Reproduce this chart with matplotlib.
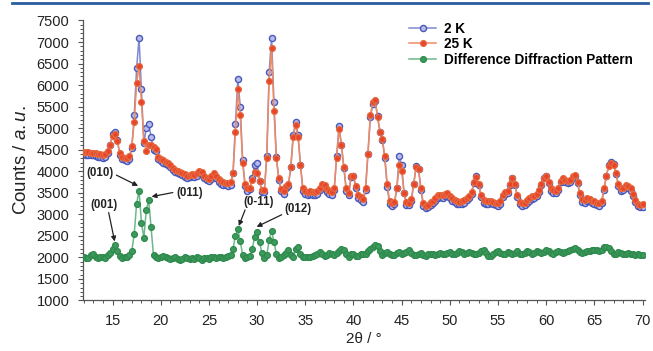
import numpy as np
import matplotlib
matplotlib.use("Agg")
import matplotlib.pyplot as plt
from matplotlib.ticker import MultipleLocator
from matplotlib.lines import Line2D

plt.rcParams['font.family'] = ['Liberation Sans', 'DejaVu Sans']
plt.rcParams['mathtext.fontset'] = 'custom'
plt.rcParams['mathtext.it'] = 'Liberation Sans:italic'
plt.rcParams['mathtext.rm'] = 'Liberation Sans'

# 2theta grid of the pattern (0.25 deg step, 12..70)
tth = np.arange(12.0, 70.001, 0.25)

# 25 K pattern, four points per degree
counts_25k = [
    4450, 4440, 4440, 4430,  4430, 4420, 4400, 4390,   # 12, 13
    4380, 4390, 4460, 4600,  4820, 4870, 4700, 4420,   # 14, 15
    4340, 4310, 4300, 4350,  4580, 5150, 6050, 6450,   # 16, 17
    5600, 4700, 4480, 4600,  4600, 4570, 4520, 4340,   # 18, 19
    4290, 4260, 4220, 4200,  4150, 4080, 4040, 4010,   # 20, 21
    3990, 3970, 3930, 3900,  3920, 3940, 3920, 3950,   # 22, 23
    4010, 3990, 3900, 3850,  3830, 3880, 3960, 3900,   # 24, 25
    3810, 3770, 3740, 3730,  3720, 3740, 3950, 4900,   # 26, 27
    5900, 5300, 4200, 3700,  3600, 3620, 3800, 3980,   # 28, 29
    3950, 3780, 3560, 3560,  4300, 6100, 6850, 5400,   # 30, 31
    4300, 3850, 3580, 3530,  3650, 3700, 4100, 4800,   # 32, 33
    5080, 4800, 4150, 3600,  3530, 3520, 3530, 3520,   # 34, 35
    3510, 3540, 3620, 3700,  3680, 3580, 3530, 3520,   # 36, 37
    3600, 4300, 4980, 4600,  4100, 3600, 3500, 3880,   # 38, 39
    3900, 3650, 3450, 3400,  3350, 3600, 4400, 5300,   # 40, 41
    5600, 5650, 5250, 4900,  4750, 4350, 3700, 3300,   # 42, 43
    3260, 3280, 3600, 4150,  4000, 3500, 3280, 3270,   # 44, 45
    3350, 3700, 4100, 4050,  3600, 3260, 3200, 3220,   # 46, 47
    3280, 3320, 3380, 3440,  3460, 3450, 3480, 3490,   # 48, 49
    3430, 3380, 3340, 3300,  3290, 3300, 3330, 3390,   # 50, 51
    3430, 3520, 3750, 3870,  3700, 3450, 3330, 3300,   # 52, 53
    3310, 3320, 3290, 3270,  3260, 3300, 3450, 3520,   # 54, 55
    3550, 3700, 3840, 3700,  3450, 3290, 3260, 3270,   # 56, 57
    3330, 3370, 3420, 3430,  3480, 3560, 3700, 3850,   # 58, 59
    3890, 3750, 3600, 3560,  3550, 3620, 3780, 3840,   # 60, 61
    3800, 3780, 3800, 3880,  3910, 3750, 3500, 3350,   # 62, 63
    3330, 3380, 3360, 3320,  3300, 3270, 3260, 3320,   # 64, 65
    3600, 3900, 4120, 4180,  4150, 3950, 3700, 3600,   # 66, 67
    3620, 3680, 3650, 3600,  3480, 3340, 3250, 3220,   # 68, 69
    3240,                                              # 70
]

# 2 K pattern
counts_2k = [
    4390, 4380, 4380, 4370,  4370, 4360, 4340, 4320,   # 12, 13
    4310, 4330, 4420, 4620,  4860, 4910, 4720, 4380,   # 14, 15
    4280, 4250, 4240, 4290,  4550, 5300, 6400, 7100,   # 16, 17
    5900, 4650, 5000, 5100,  4800, 4500, 4460, 4290,   # 18, 19
    4230, 4200, 4160, 4140,  4090, 4020, 3980, 3950,   # 20, 21
    3930, 3910, 3870, 3840,  3860, 3880, 3860, 3890,   # 22, 23
    3950, 3930, 3840, 3790,  3770, 3820, 3900, 3840,   # 24, 25
    3750, 3710, 3680, 3670,  3660, 3690, 3950, 5100,   # 26, 27
    6150, 5500, 4250, 3660,  3550, 3580, 3850, 4150,   # 28, 29
    4180, 3780, 3510, 3520,  4350, 6300, 7100, 5600,   # 30, 31
    4320, 3800, 3530, 3480,  3600, 3660, 4100, 4850,   # 32, 33
    5150, 4830, 4150, 3550,  3470, 3460, 3470, 3460,   # 34, 35
    3450, 3480, 3560, 3640,  3620, 3520, 3470, 3460,   # 36, 37
    3560, 4350, 5050, 4620,  4080, 3550, 3440, 3860,   # 38, 39
    3880, 3600, 3390, 3340,  3290, 3560, 4400, 5250,   # 40, 41
    5550, 5620, 5280, 4920,  4720, 4300, 3640, 3240,   # 42, 43
    3200, 3230, 3620, 4350,  4150, 3500, 3220, 3210,   # 44, 45
    3300, 3700, 4120, 4060,  3560, 3200, 3140, 3160,   # 46, 47
    3220, 3260, 3320, 3380,  3400, 3390, 3420, 3430,   # 48, 49
    3370, 3320, 3280, 3240,  3230, 3240, 3270, 3330,   # 50, 51
    3370, 3470, 3730, 3880,  3680, 3400, 3270, 3240,   # 52, 53
    3250, 3260, 3230, 3210,  3200, 3240, 3400, 3470,   # 54, 55
    3500, 3680, 3850, 3690,  3400, 3230, 3200, 3210,   # 56, 57
    3270, 3310, 3360, 3370,  3420, 3510, 3680, 3850,   # 58, 59
    3900, 3730, 3550, 3500,  3490, 3570, 3750, 3830,   # 60, 61
    3760, 3730, 3750, 3850,  3900, 3720, 3450, 3290,   # 62, 63
    3270, 3320, 3300, 3260,  3240, 3210, 3200, 3270,   # 64, 65
    3570, 3900, 4150, 4220,  4160, 3930, 3660, 3550,   # 66, 67
    3570, 3630, 3600, 3550,  3430, 3290, 3190, 3160,   # 68, 69
    3180,                                              # 70
]

# difference diffraction pattern (offset)
counts_diff = [
    2020, 1980, 1990, 2050,  2090, 2020, 1980, 2000,   # 12, 13
    2010, 1990, 2060, 2110,  2200, 2290, 2150, 2030,   # 14, 15
    1990, 2000, 2020, 2060,  2150, 2550, 3250, 3550,   # 16, 17
    2800, 2450, 3100, 3330,  2700, 2050, 2000, 1990,   # 18, 19
    2020, 2030, 2000, 1980,  1960, 1990, 2010, 1960,   # 20, 21
    1940, 1970, 2000, 1980,  1960, 1990, 1970, 2010,   # 22, 23
    1980, 1950, 1980, 1990,  1960, 2000, 2020, 1990,   # 24, 25
    2000, 2010, 1990, 2000,  2030, 2060, 2200, 2500,   # 26, 27
    2650, 2380, 2050, 1990,  2000, 2030, 2200, 2480,   # 28, 29
    2580, 2350, 2100, 1990,  2050, 2400, 2620, 2350,   # 30, 31
    2080, 1990, 2000, 2050,  2100, 2170, 2050, 2000,   # 32, 33
    2200, 2230, 2080, 2010,  2000, 2020, 2000, 2030,   # 34, 35
    2050, 2080, 2130, 2070,  2040, 2060, 2100, 2080,   # 36, 37
    2060, 2110, 2140, 2200,  2180, 2070, 2020, 2070,   # 38, 39
    2080, 2040, 2030, 2070,  2090, 2070, 2150, 2200,   # 40, 41
    2240, 2280, 2270, 2150,  2060, 2100, 2130, 2070,   # 42, 43
    2050, 2060, 2100, 2120,  2080, 2110, 2130, 2170,   # 44, 45
    2100, 2060, 2050, 2080,  2100, 2060, 2040, 2070,   # 46, 47
    2090, 2080, 2060, 2090,  2110, 2080, 2070, 2100,   # 48, 49
    2130, 2090, 2070, 2100,  2150, 2120, 2090, 2110,   # 50, 51
    2130, 2100, 2080, 2090,  2110, 2140, 2160, 2100,   # 52, 53
    2040, 2030, 2080, 2120,  2150, 2110, 2070, 2090,   # 54, 55
    2130, 2100, 2080, 2110,  2140, 2090, 2070, 2100,   # 56, 57
    2140, 2120, 2090, 2100,  2150, 2130, 2100, 2120,   # 58, 59
    2160, 2140, 2110, 2090,  2120, 2150, 2130, 2100,   # 60, 61
    2130, 2150, 2170, 2200,  2210, 2180, 2130, 2100,   # 62, 63
    2120, 2140, 2150, 2160,  2170, 2160, 2140, 2170,   # 64, 65
    2230, 2250, 2220, 2150,  2080, 2090, 2130, 2110,   # 66, 67
    2080, 2090, 2100, 2080,  2070, 2060, 2070, 2060,   # 68, 69
    2050,                                              # 70
]

# peak labels: text, text position, arrow tip
peak_labels = ['(010)', '(011)', '(001)', '(0-11)', '(012)']
label_xy = [(13.7, 3970), (23.0, 3505), (14.15, 3220), (30.2, 3275), (34.2, 3130)]
arrow_from = [(15.4, 3910), (21.25, 3505), (14.6, 3040), (28.75, 3100), (32.55, 2990)]
arrow_to = [(17.65, 3660), (19.05, 3410), (15.22, 2370), (28.1, 2730), (29.95, 2710)]

fig = plt.figure(figsize=(6.53, 3.51), dpi=100)
ax = fig.add_axes([0.1266, 0.144, 0.8604, 0.7976])

ax.plot(tth, counts_2k, '-o', color='#8088d0', lw=1.1, ms=4.4,
        mfc='#b8bcec', mec='#4a58b8', mew=1.0, label='2 K', zorder=2)
ax.plot(tth, counts_25k, '-o', color='#f08a60', lw=1.1, ms=4.2,
        mfc='#e8442a', mec='#e66a40', mew=0.9, label='25 K', zorder=3)
ax.plot(tth, counts_diff, '-o', color='#6cb88a', lw=1.1, ms=4.2,
        mfc='#3c9a5c', mec='#2e8a4c', mew=0.9, label='Difference Diffraction Pattern', zorder=3)

for lab, xy, p0, p1 in zip(peak_labels, label_xy, arrow_from, arrow_to):
    ax.text(xy[0], xy[1], lab, ha='center', va='center', fontsize=8.3,
            fontweight='bold', color='#222222')
    ax.annotate('', xy=p1, xytext=p0,
                arrowprops=dict(arrowstyle='-|>', color='#222222', lw=0.9,
                                mutation_scale=7, shrinkA=0, shrinkB=0))

ax.set_xlim(11.9, 70.2)
ax.set_ylim(1000, 7500)
ax.xaxis.set_major_locator(MultipleLocator(5))
ax.xaxis.set_minor_locator(MultipleLocator(1))
ax.yaxis.set_major_locator(MultipleLocator(500))
ax.yaxis.set_minor_locator(MultipleLocator(100))
ax.set_xticks(np.arange(15, 71, 5))
ax.tick_params(which='major', direction='out', length=3.5, width=0.8,
               colors='#555555', labelcolor='#222222', labelsize=10.5, pad=6)
ax.tick_params(which='minor', direction='out', length=2, width=0.7, colors='#555555')

for s in ['top', 'right']:
    ax.spines[s].set_visible(False)
for s in ['left', 'bottom']:
    ax.spines[s].set_color('#555555')
    ax.spines[s].set_linewidth(0.9)

ax.set_xlabel('2θ / °', fontsize=11, color='#222222', labelpad=3)
ax.set_ylabel('Counts / $\\mathit{a.u.}$', fontsize=13.5, color='#222222', labelpad=5)

leg = ax.legend(loc='upper left', bbox_to_anchor=(0.616, 0.958),
                bbox_transform=fig.transFigure, frameon=False, borderpad=0,
                handlelength=2.0, handletextpad=0.6, labelspacing=0.12,
                prop={'size': 9.8, 'weight': 'bold'})

# journal header rule
fig.add_artist(Line2D([12 / 653, 648 / 653], [1 - 2.5 / 351, 1 - 2.5 / 351],
                      transform=fig.transFigure, color='#2a5d9f', lw=2))

fig.savefig('out.png', dpi=100)
